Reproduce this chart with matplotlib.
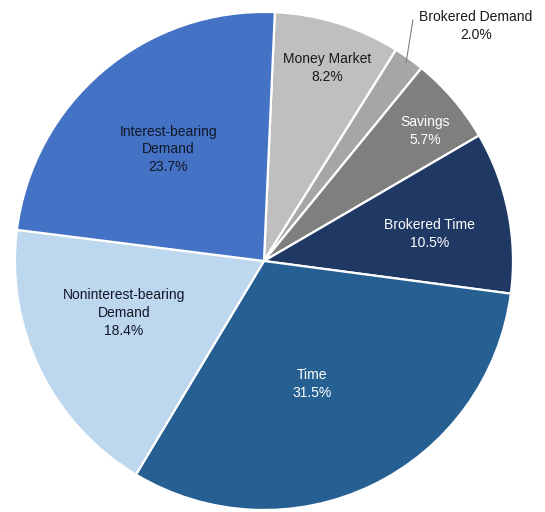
import numpy as np
import matplotlib
matplotlib.use('Agg')
import matplotlib.pyplot as plt

# 예금 구성 (%), 12시 방향에서 시계방향
categories = ['Money Market', 'Brokered Demand', 'Savings', 'Brokered Time',
              'Time', 'Noninterest-bearing\nDemand', 'Interest-bearing\nDemand']
shares = [8.2, 2.0, 5.7, 10.5, 31.5, 18.4, 23.7]

colors = ['#bfbfbf', '#a6a6a6', '#7f7f7f', '#1f3864',
          '#265f92', '#bdd7ee', '#4472c4']
text_colors = ['#1a1a1a', '#1a1a1a', 'white', 'white', 'white', '#111827', '#111827']
# 라벨 위치: 반지름 비율, 각도 보정(도)
label_r = [0.815, 1.27, 0.83, 0.675, 0.53, 0.60, 0.59]
label_dth = [-0.8, -6.5, -1.6, -2.1, -4.5, -5.7, 0.4]

plt.rcParams['font.family'] = ['Liberation Sans Narrow', 'Liberation Sans', 'DejaVu Sans']

fig = plt.figure(figsize=(5.45, 5.12), dpi=100)
ax = fig.add_axes([0, 0, 1, 1])
wedges, _ = ax.pie(shares, colors=colors, startangle=87.5, counterclock=False,
                   radius=1.0, wedgeprops=dict(edgecolor='white', linewidth=1.6))
ax.set_aspect('auto')
ax.set_xlim(-1.060, 1.1285)
ax.set_ylim(-1.008, 1.048)
ax.axis('off')

for w, name, val, tc, r, dth in zip(wedges, categories, shares, text_colors,
                                     label_r, label_dth):
    mid = np.deg2rad((w.theta1 + w.theta2) / 2 + dth)
    x, y = r * np.cos(mid), r * np.sin(mid)
    ax.text(x, y, f'{name}\n{val:.1f}%', ha='center', va='center',
            color=tc, fontsize=10, linespacing=1.35)
    if name == 'Brokered Demand':
        # 바깥 라벨 지시선
        m0 = np.deg2rad((w.theta1 + w.theta2) / 2)
        ax.plot([0.98 * np.cos(m0), 0.598], [0.98 * np.sin(m0), 0.968],
                color='#808080', lw=0.8)

fig.savefig('out.png', dpi=100)
